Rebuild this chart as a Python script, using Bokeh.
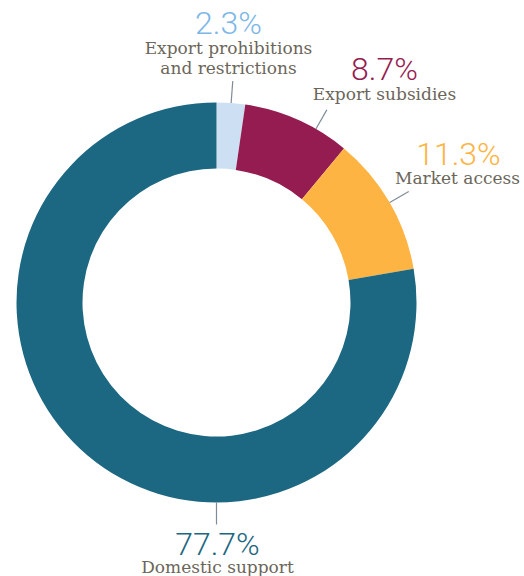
import math
from bokeh.plotting import figure
from bokeh.models import Range1d, ColumnDataSource
from bokeh.core.properties import value
from bokeh.embed import file_html
from bokeh.resources import INLINE

# ---- data ----
categories = ["Export prohibitions\nand restrictions", "Export subsidies", "Market access", "Domestic support"]
shares = [2.3, 8.7, 11.3, 77.7]
pct_labels = ["2.3%", "8.7%", "11.3%", "77.7%"]

# ---- style / layout ----
slice_colors = ["#cde0f3", "#951c51", "#fdb443", "#1c6781"]
pct_colors = ["#7db7e8", "#951c51", "#fdb443", "#1c6781"]
label_color = "#6b665a"
leader_color = "#7f8c96"

W, H = 524, 576
cx, cy = 216, H - 302   # center in data coords (1 unit = 1 px)
r_out, r_in = 200, 134
leader_angles = [4.2, 29.8, 60.0, 180.0]        # degrees clockwise from top
leader_len = 22
# text anchors in image px: (pct x, pct y, label x, label y)
text_pos = [(228, 22, 228, 47), (384, 68, 384, 93), (458, 153, 457, 177), (217, 543, 217, 566)]

p = figure(width=W, height=H, output_backend="svg", toolbar_location=None,
           x_range=Range1d(0, W), y_range=Range1d(0, H), min_border=0)
p.axis.visible = False
p.grid.visible = False
p.outline_line_color = None
p.background_fill_color = "white"

total = sum(shares)
starts, ends = [], []
acc = 0.0
for s in shares:
    starts.append(math.pi / 2 - 2 * math.pi * acc / total)
    acc += s
    ends.append(math.pi / 2 - 2 * math.pi * acc / total)

src = ColumnDataSource(dict(start=starts, end=ends, color=slice_colors))
p.annular_wedge(x=cx, y=cy, inner_radius=r_in, outer_radius=r_out,
                start_angle="start", end_angle="end", direction="clock",
                fill_color="color", line_color=None, source=src)

# leader lines
x0s, y0s, x1s, y1s = [], [], [], []
for a in leader_angles:
    t = math.radians(a)
    x0s.append(cx + r_out * math.sin(t)); y0s.append(cy + r_out * math.cos(t))
    x1s.append(cx + (r_out + leader_len) * math.sin(t)); y1s.append(cy + (r_out + leader_len) * math.cos(t))
p.segment(x0=x0s, y0=y0s, x1=x1s, y1=y1s, line_color=leader_color, line_width=1.2)

def ty(y):
    return H - y

# percentages
p.text(x=[t[0] for t in text_pos], y=[ty(t[1]) for t in text_pos], text=pct_labels,
       text_color=pct_colors, text_font=value("Roboto Light, Roboto"), text_font_size="32px",
       text_align="center", text_baseline="middle")

# category labels (split lines)
lx, ly, lt = [], [], []
for (px_, py_, lx_, ly_), cat in zip(text_pos, categories):
    for i, line in enumerate(cat.split("\n")):
        lx.append(lx_); ly.append(ty(ly_ + 20 * i)); lt.append(line)
p.text(x=lx, y=ly, text=lt, text_color=label_color, text_font=value("DejaVu Serif"),
       text_font_size="17px", text_align="center", text_baseline="middle")

open("out.html", "w").write(file_html(p, INLINE))
